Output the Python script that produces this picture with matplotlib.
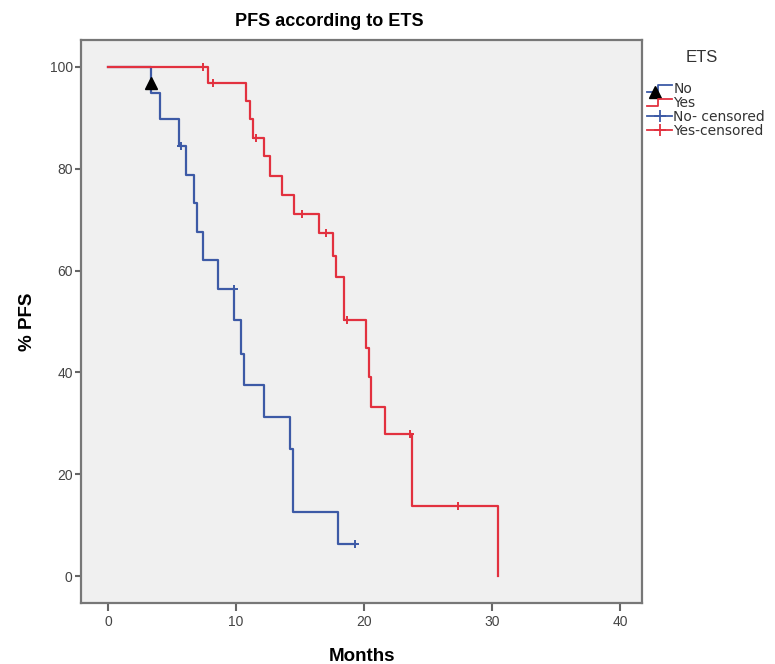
import numpy as np
import matplotlib
matplotlib.use("Agg")
from matplotlib import pyplot as plt
from matplotlib.lines import Line2D
from matplotlib.legend_handler import HandlerBase

plt.rcParams['font.family'] = ['Liberation Sans', 'DejaVu Sans']

#dados (meses, % PFS)
tempoNo = [0, 3.36, 4.09, 5.54, 6.07, 6.73, 6.94, 7.40, 8.58, 9.85, 10.43, 10.64, 12.19, 14.25, 14.46, 17.94, 19.26]
pfsNo = [100, 94.9, 89.7, 84.5, 78.8, 73.3, 67.5, 62.1, 56.4, 50.2, 43.7, 37.5, 31.2, 25.0, 12.5, 6.25, 6.25]
censNoT = [5.68, 9.85, 19.26]
censNoS = [84.5, 56.4, 6.25]

tempoYes = [0, 7.79, 10.82, 11.08, 11.35, 12.15, 12.67, 13.59, 14.52, 16.50, 17.55, 17.81, 18.45, 20.14, 20.40, 20.51, 21.65, 23.75, 30.48]
pfsYes = [100, 96.9, 93.4, 89.7, 86.1, 82.5, 78.6, 74.8, 71.2, 67.4, 62.8, 58.8, 50.3, 44.7, 39.1, 33.2, 27.9, 13.8, 0]
censYesT = [7.40, 8.19, 11.54, 15.18, 17.02, 18.66, 23.57, 27.32]
censYesS = [100, 96.9, 86.1, 71.2, 67.4, 50.3, 27.9, 13.8]

#marcador triangulo
trianguloT = [3.36]
trianguloS = [96.8]

xTicks = [0, 10, 20, 30, 40]
yTicks = [0, 20, 40, 60, 80, 100]

azul = '#3d5aa6'
vermelho = '#e2313f'


#icone em degrau para a legenda
class HandlerDegrau(HandlerBase):
    def __init__(self, triangulo=False, **kw):
        HandlerBase.__init__(self, **kw)
        self.triangulo = triangulo

    def create_artists(self, legend, orig_handle, xdescent, ydescent, width, height, fontsize, trans):
        x0 = -xdescent
        h = height
        xs = [x0, x0 + width * 0.45, x0 + width * 0.45, x0 + width]
        ys = [h * 0.15, h * 0.15, h * 0.85, h * 0.85]
        linha = Line2D(xs, ys, color=orig_handle.get_color(), lw=1.3, transform=trans)
        artistas = [linha]
        if self.triangulo:
            tri = Line2D([x0 + width * 0.3], [h * 0.15], marker='^', color='black',
                         markersize=8, linestyle='none', transform=trans)
            artistas.append(tri)
        return artistas


fig = plt.figure(figsize=(7.75, 6.64), dpi=100)
ax = fig.add_axes([81 / 775, 1 - 603 / 664, (642 - 81) / 775, (603 - 40) / 664])
ax.set_facecolor('#f0f0f0')

ax.step(tempoNo, pfsNo, where='post', color=azul, lw=1.6)
ax.step(tempoYes, pfsYes, where='post', color=vermelho, lw=1.6)
ax.plot(censNoT, censNoS, '+', color=azul, markersize=6, mew=1.4)
ax.plot(censYesT, censYesS, '+', color=vermelho, markersize=6, mew=1.4)
ax.plot(trianguloT, trianguloS, '^', color='black', markersize=8)

ax.set_xlim(-2.1, 41.7)
ax.set_ylim(-5.3, 105.3)
ax.set_xticks(xTicks)
ax.set_yticks(yTicks)
ax.tick_params(axis='both', labelsize=10, labelcolor='#444444', color='#666666', width=1.5, length=4, pad=2)
ax.tick_params(axis='x', length=6, pad=3)

for lado in ax.spines.values():
    lado.set_color('#777777')
    lado.set_linewidth(1.6)

ax.set_xlabel('Months', fontsize=13.5, fontweight='bold', labelpad=13)
ax.set_ylabel('% PFS', fontsize=13.5, fontweight='bold', labelpad=10)
fig.text(329 / 775, 1 - 22 / 664, 'PFS according to ETS', ha='center', va='center',
         fontsize=13, fontweight='bold')

#legenda
fig.text(702 / 775, 1 - 58 / 664, 'ETS', ha='center', va='center', fontsize=12, color='#333333')
hNo = Line2D([], [], color=azul)
hYes = Line2D([], [], color=vermelho)
hNoC = Line2D([], [], color=azul, marker='+', markersize=9, mew=1.3, lw=1.3)
hYesC = Line2D([], [], color=vermelho, marker='+', markersize=9, mew=1.3, lw=1.3)
leg = ax.legend([hNo, hYes, hNoC, hYesC], ['No', 'Yes', 'No- censored', 'Yes-censored'],
                handler_map={hNo: HandlerDegrau(triangulo=True), hYes: HandlerDegrau()},
                loc='upper left', bbox_to_anchor=(647 / 775, 1 - 82 / 664),
                bbox_transform=fig.transFigure, frameon=False,
                prop={'family': 'DejaVu Sans', 'size': 10},
                handlelength=1.8, handletextpad=0.1, labelspacing=0.0, borderaxespad=0,
                borderpad=0)
for t in leg.get_texts():
    t.set_color('#333333')

fig.savefig('out.png', dpi=100)
